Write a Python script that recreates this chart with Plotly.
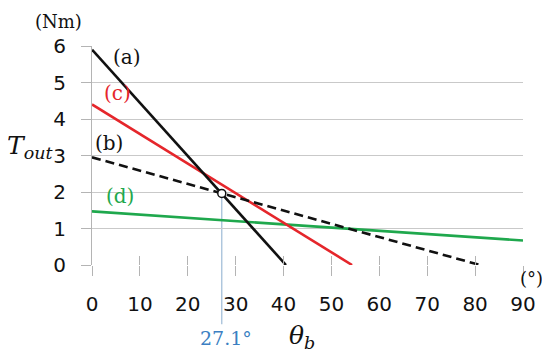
import plotly.graph_objects as go

# ---- data ----
theta_a = [0, 40.5]
torque_a = [5.9, 0]
theta_b = [0, 81]
torque_b = [2.95, 0]
theta_c = [0, 54.3]
torque_c = [4.4, 0]
theta_d = [0, 90]
torque_d = [1.47, 0.67]
cross_theta = 27.1
cross_torque = 1.96
x_ticks = [0, 10, 20, 30, 40, 50, 60, 70, 80, 90]
y_ticks = [0, 1, 2, 3, 4, 5, 6]

BLACK = "#111111"
RED = "#e5262b"
GREEN = "#1fa84d"
BLUE_TXT = "#3b7fc2"
BLUE_LINE = "#9dbad6"
GRID = "#c9c9c9"
AXIS = "#b4b4b4"
SERIF = "DejaVu Serif"
SANS = "DejaVu Sans"

fig = go.Figure()
fig.add_trace(go.Scatter(x=theta_d, y=torque_d, mode="lines",
                         line=dict(color=GREEN, width=2.6), showlegend=False))
fig.add_trace(go.Scatter(x=theta_c, y=torque_c, mode="lines",
                         line=dict(color=RED, width=2.6), showlegend=False))
fig.add_trace(go.Scatter(x=theta_b, y=torque_b, mode="lines",
                         line=dict(color=BLACK, width=2.6, dash="9px,5px"), showlegend=False))
fig.add_trace(go.Scatter(x=theta_a, y=torque_a, mode="lines",
                         line=dict(color=BLACK, width=2.6), showlegend=False))
fig.add_trace(go.Scatter(x=[cross_theta], y=[cross_torque], mode="markers",
                         marker=dict(size=8, color="white", line=dict(color=BLACK, width=1.5)),
                         showlegend=False, cliponaxis=False))
# invisible trace for overlay axis (inner ticks)
fig.add_trace(go.Scatter(x=[x_ticks[0]], y=[0], mode="markers", marker=dict(opacity=0),
                         xaxis="x2", showlegend=False, hoverinfo="skip"))

# vertical marker line from crossing down below the axis
fig.add_shape(type="line", xref="x", yref="paper",
              x0=cross_theta, x1=cross_theta, y0=cross_torque / 6, y1=-0.27,
              line=dict(color=BLUE_LINE, width=1.2), layer="below")

annos = [
    dict(x=7.3, y=5.7, text="(a)", color=BLACK),
    dict(x=5.4, y=4.7, text="(c)", color=RED),
    dict(x=3.5, y=3.35, text="(b)", color=BLACK),
    dict(x=5.8, y=1.9, text="(d)", color=GREEN),
]
for a in annos:
    fig.add_annotation(x=a["x"], y=a["y"], xref="x", yref="y", text=a["text"],
                       showarrow=False, font=dict(family=SERIF, size=20, color=a["color"]))

paper_texts = [
    dict(x=-0.0766, y=1.114, text="(Nm)", size=18, color=BLACK),
    dict(x=-0.144, y=0.54, text="<i>T</i><sub><i>out</i></sub>", size=25, color=BLACK),
    dict(x=0.487, y=-0.33, text="<i>θ</i><sub><i>b</i></sub>", size=25, color=BLACK),
    dict(x=0.311, y=-0.333, text="27.1°", size=19, color=BLUE_TXT),
    dict(x=1.019, y=-0.06, text="(°)", size=18, color=BLACK),
]
for p in paper_texts:
    fig.add_annotation(x=p["x"], y=p["y"], xref="paper", yref="paper", text=p["text"],
                       xanchor="center", yanchor="middle", showarrow=False,
                       font=dict(family=SERIF, size=p["size"], color=p["color"]))

fig.update_layout(
    width=542, height=350,
    margin=dict(l=84, r=27, t=38, b=93),
    paper_bgcolor="white", plot_bgcolor="white",
    xaxis=dict(range=[0, 90], tickvals=x_ticks, ticks="outside", ticklen=10,
               tickcolor=AXIS, tickwidth=1.2, showgrid=False, zeroline=False,
               showline=False, tickfont=dict(family=SANS, size=20, color="#111"),
               ticklabelstandoff=11),
    xaxis2=dict(range=[0, 90], tickvals=x_ticks, ticks="inside", ticklen=9,
                tickcolor=AXIS, tickwidth=1.2, showgrid=False, zeroline=False,
                showline=False, showticklabels=False, overlaying="x", side="bottom",
                anchor="y"),
    yaxis=dict(range=[0, 6], tickvals=y_ticks, ticks="outside", ticklen=10,
               tickcolor=AXIS, tickwidth=1.2, showgrid=True, gridcolor=GRID,
               gridwidth=1.2, zeroline=False, showline=True, linecolor=AXIS,
               linewidth=1.2, tickfont=dict(family=SANS, size=20, color="#111"),
               ticklabelstandoff=11),
)

fig.write_html("out.html")
